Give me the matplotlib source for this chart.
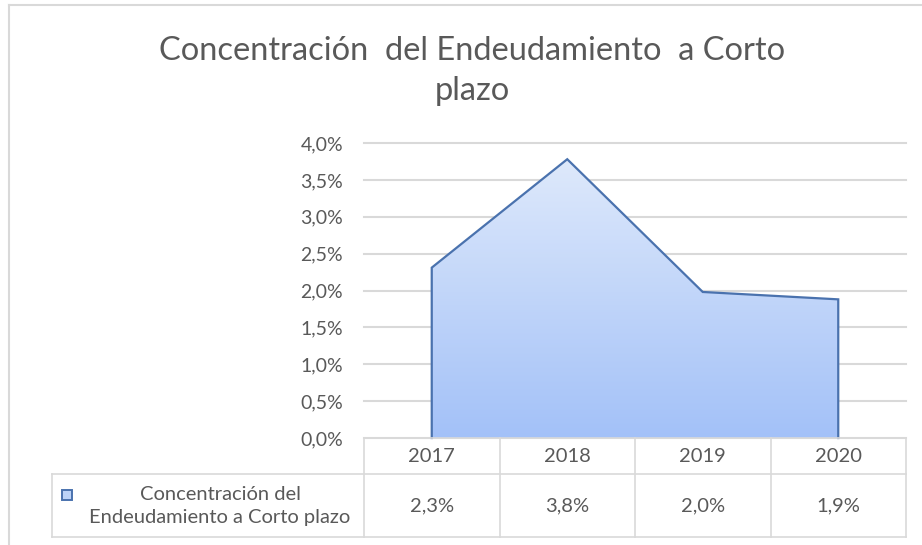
import matplotlib
matplotlib.use("Agg")
import matplotlib.pyplot as plt
import numpy as np
from matplotlib.patches import Polygon, Rectangle
from matplotlib.lines import Line2D
from matplotlib.colors import LinearSegmentedColormap

# ---- data ----
years = ["2017", "2018", "2019", "2020"]
values = [0.0231, 0.0378, 0.0198, 0.0188]
table_labels = ["2,3%", "3,8%", "2,0%", "1,9%"]
series_name = "Concentración del\nEndeudamiento a Corto plazo"
title = "Concentración  del Endeudamiento  a Corto\nplazo"
yticks = [0.0, 0.005, 0.01, 0.015, 0.02, 0.025, 0.03, 0.035, 0.04]

FONT = ["Lato", "DejaVu Sans"]
plt.rcParams["font.family"] = FONT
TXT = "#595959"
GRID = "#D9D9D9"
EDGE = "#4A72AE"

W, H = 922, 545
fig = plt.figure(figsize=(W / 100, H / 100), dpi=100)
fig.patch.set_facecolor("white")

def fx(x):
    return x / W

def fy(y):
    return 1 - y / H

# plot area (pixel coords)
L, R, T, B = 364, 906, 143, 438
ax = fig.add_axes([fx(L), fy(B), fx(R) - fx(L), fy(T) - fy(B)])
n = len(years)
xs = np.arange(n)
ax.set_xlim(-0.5, n - 0.5)
ax.set_ylim(0, 0.04)
for s in ax.spines.values():
    s.set_visible(False)
ax.set_xticks([])
ax.set_yticks(yticks)
ax.set_yticklabels([f"{v*100:.1f}%".replace(".", ",") for v in yticks],
                   color=TXT, fontsize=14)
ax.tick_params(axis="y", length=0, pad=15)
for v in yticks:
    ax.axhline(v, color=GRID, lw=1.5, zorder=0, clip_on=False)

# area with gradient
verts = [(xs[0], 0)] + list(zip(xs, values)) + [(xs[-1], 0)]
poly = Polygon(verts, closed=True, facecolor="none", edgecolor="none")
ax.add_patch(poly)
cmap = LinearSegmentedColormap.from_list("g", ["#A3C1F8", "#DEE9FB"])
grad = np.linspace(0, 1, 256).reshape(-1, 1)
im = ax.imshow(grad, cmap=cmap, aspect="auto", origin="lower",
               extent=[xs[0], xs[-1], 0, max(values)], zorder=2)
im.set_clip_path(poly)
ax.plot([xs[0]] + list(xs) + [xs[-1]], [0] + values + [0],
        color=EDGE, lw=1.6, zorder=3, solid_joinstyle="miter", clip_on=False)
ax.set_xlim(-0.5, n - 0.5)
ax.set_ylim(0, 0.04)

# title
fig.text(fx(472), fy(71), title, ha="center", va="center", color=TXT,
         fontsize=23.5, linespacing=1.4)

# frame border (top and left visible)
fig.add_artist(Line2D([fx(9), fx(W + 5)], [fy(5), fy(5)], color=GRID, lw=1.5))
fig.add_artist(Line2D([fx(9), fx(9)], [fy(5), fy(H + 5)], color=GRID, lw=1.5))

# data table
def col_px(xd):
    disp = ax.transData.transform((xd, 0))
    return disp[0]  # pixels from left (dpi 100, figure px)

TL = 52
ROW1_T, ROW1_B, ROW2_B = B, 474, 537
bounds = [col_px(i - 0.5) for i in range(n + 1)]
lw = 1.2
def hline(x0, x1, y):
    fig.add_artist(Line2D([fx(x0), fx(x1)], [fy(y), fy(y)], color=GRID, lw=lw))
def vline(x, y0, y1):
    fig.add_artist(Line2D([fx(x), fx(x)], [fy(y0), fy(y1)], color=GRID, lw=lw))

hline(bounds[0], bounds[-1], ROW1_T)
hline(TL, bounds[-1], ROW1_B)
hline(TL, bounds[-1], ROW2_B)
vline(TL, ROW1_B, ROW2_B)
for b in bounds:
    vline(b, ROW1_T, ROW2_B)

for i in range(n):
    cx = (bounds[i] + bounds[i + 1]) / 2
    fig.text(fx(cx), fy((ROW1_T + ROW1_B) / 2 + 1), years[i], ha="center",
             va="center", color=TXT, fontsize=14.5)
    fig.text(fx(cx), fy((ROW1_B + ROW2_B) / 2), table_labels[i], ha="center",
             va="center", color=TXT, fontsize=14.5)

# legend key
fig.add_artist(Rectangle((fx(62), fy(500)), fx(10), 10 / H,
                         facecolor="#BCD2F7", edgecolor=EDGE, lw=1.4))
fig.text(fx(220), fy(506), series_name, ha="center",
         va="center", color=TXT, fontsize=14.5, linespacing=1.45)

fig.savefig("out.png", dpi=100, facecolor="white")
